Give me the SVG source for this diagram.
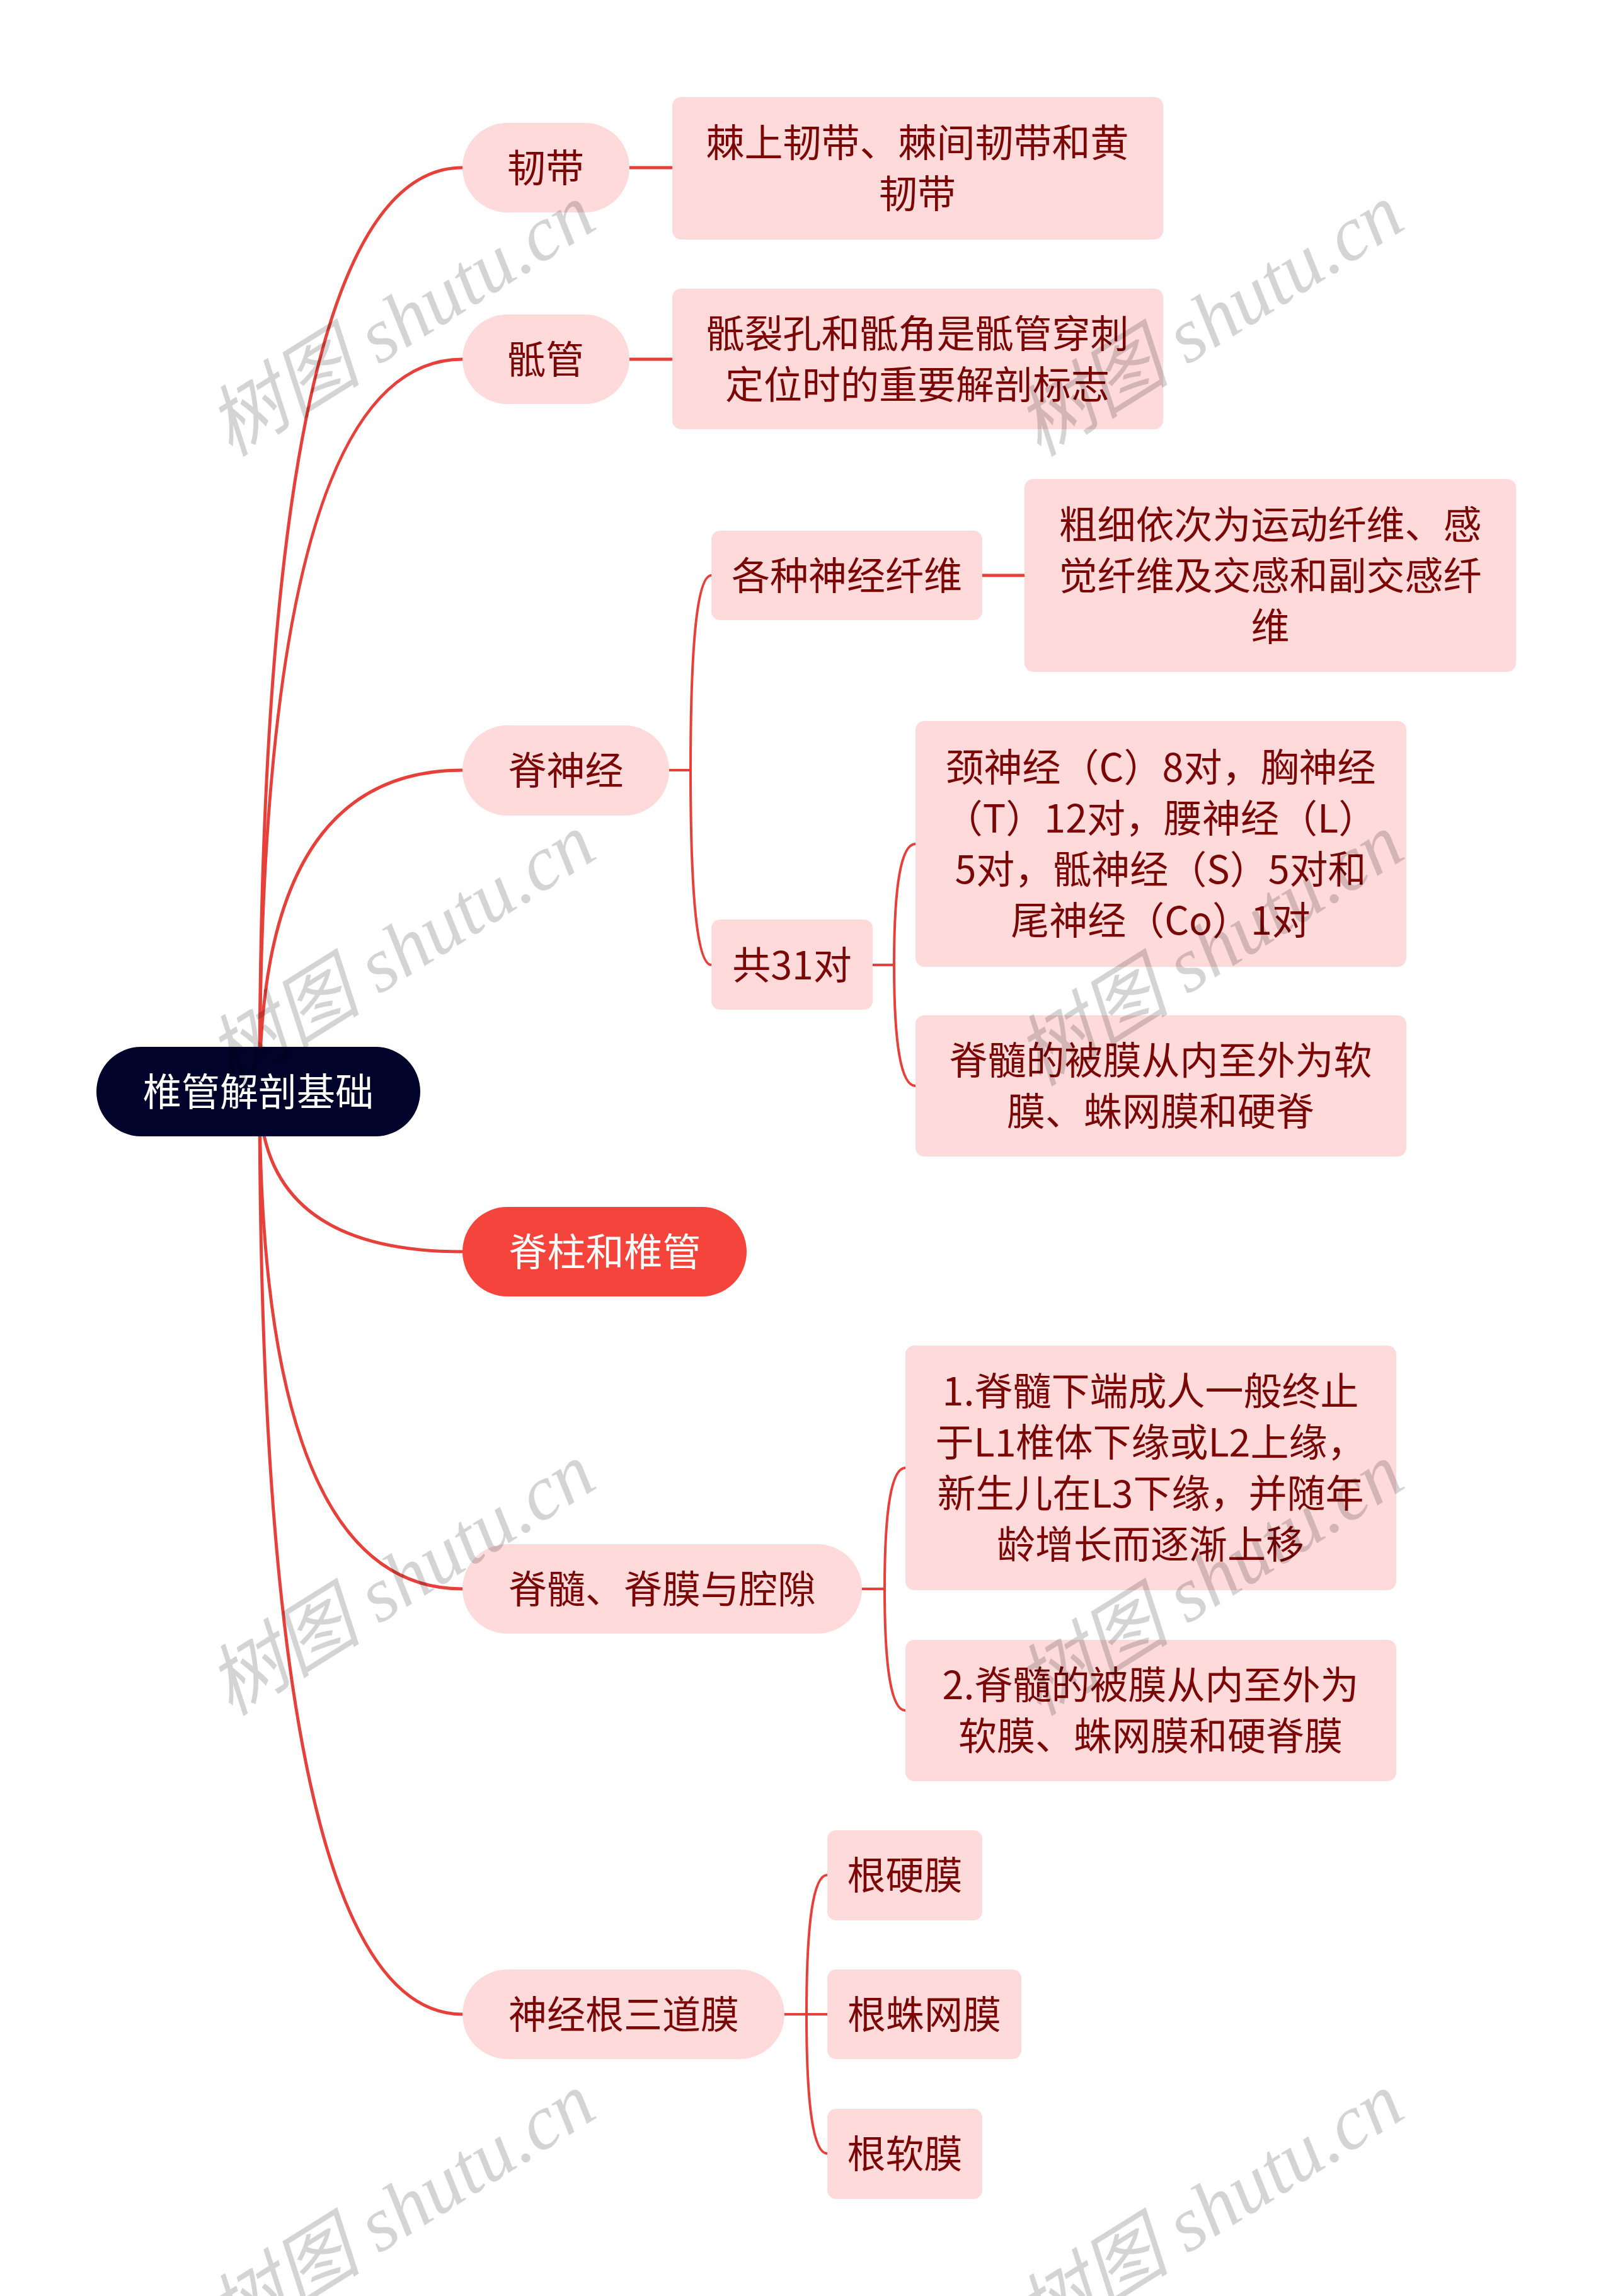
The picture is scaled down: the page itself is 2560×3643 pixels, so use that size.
<svg xmlns="http://www.w3.org/2000/svg" width="2560" height="3643" viewBox="0 0 2560 3643">
<style>
.pill{fill:#fedada}
.box{fill:#fedada}
.t{font-family:"Noto Sans CJK SC","Noto Sans",sans-serif;font-size:61px;fill:#7a0606;text-anchor:middle;dominant-baseline:central;transform:translate(0px,-4px)}
.w{fill:#ffffff}
.c1{fill:none;stroke:#e6403a;stroke-width:5;stroke-linecap:round}
.c2{fill:none;stroke:#e6403a;stroke-width:4;stroke-linecap:round}
.wm{font-family:"Liberation Serif","Noto Sans CJK SC",serif;font-style:italic;font-size:123px;fill:#000;fill-opacity:0.17;text-anchor:middle;dominant-baseline:central}
</style>
<rect width="2560" height="3643" fill="#ffffff"/>
<g id="connectors">
<path class="c1" d="M412 1732 Q412 266 734 266"/>
<path class="c1" d="M412 1732 Q412 570 734 570"/>
<path class="c1" d="M412 1732 Q412 1222 734 1222"/>
<path class="c1" d="M412 1732 Q412 1986 734 1986"/>
<path class="c1" d="M412 1732 Q412 2521 734 2521"/>
<path class="c1" d="M412 1732 Q412 3196 734 3196"/>
<path class="c1" d="M999 266 H1067"/>
<path class="c1" d="M999 570 H1067"/>
<path class="c2" d="M1062 1222 H1096"/>
<path class="c2" d="M1096 1222 Q1096 913 1129 913"/>
<path class="c2" d="M1096 1222 Q1096 1531 1129 1531"/>
<path class="c1" d="M1559 913 H1626"/>
<path class="c2" d="M1385 1531 H1419"/>
<path class="c2" d="M1419 1531 Q1419 1339 1453 1339"/>
<path class="c2" d="M1419 1531 Q1419 1723 1453 1723"/>
<path class="c2" d="M1368 2521 H1404"/>
<path class="c2" d="M1404 2521 Q1404 2329 1437 2329"/>
<path class="c2" d="M1404 2521 Q1404 2714 1437 2714"/>
<path class="c2" d="M1245 3196 H1313"/>
<path class="c2" d="M1280 3196 Q1280 2975 1313 2975"/>
<path class="c2" d="M1280 3196 Q1280 3417 1313 3417"/>
</g>
<g id="root">
<rect x="153" y="1661" width="514" height="142" rx="71" fill="#01032a"/>
<text class="t w" x="410" y="1732">椎管解剖基础</text>
</g>
<g id="n-rendai">
<rect class="pill" x="734" y="195" width="265" height="142" rx="71"/>
<text class="t" x="866" y="266">韧带</text>
</g>
<g id="n-rendai-c">
<rect class="box" x="1067" y="154" width="779" height="226" rx="14"/>
<text class="t" x="1456" y="226.5">棘上韧带、棘间韧带和黄</text>
<text class="t" x="1456" y="307.5">韧带</text>
</g>
<g id="n-diguan">
<rect class="pill" x="734" y="499" width="265" height="142" rx="71"/>
<text class="t" x="866" y="570">骶管</text>
</g>
<g id="n-diguan-c">
<rect class="box" x="1067" y="458" width="779" height="223" rx="14"/>
<text class="t" x="1456" y="529">骶裂孔和骶角是骶管穿刺</text>
<text class="t" x="1456" y="610">定位时的重要解剖标志</text>
</g>
<g id="n-jishenjing">
<rect class="pill" x="734" y="1151" width="328" height="143" rx="71"/>
<text class="t" x="898" y="1222">脊神经</text>
</g>
<g id="n-gezhong">
<rect class="box" x="1129" y="842" width="430" height="142" rx="14"/>
<text class="t" x="1344" y="913">各种神经纤维</text>
</g>
<g id="n-gezhong-c">
<rect class="box" x="1626" y="760" width="780" height="306" rx="14"/>
<text class="t" x="2016" y="832">粗细依次为运动纤维、感</text>
<text class="t" x="2016" y="913">觉纤维及交感和副交感纤</text>
<text class="t" x="2016" y="994">维</text>
</g>
<g id="n-gong31">
<rect class="box" x="1129" y="1459" width="256" height="143" rx="14"/>
<text class="t" x="1257" y="1531">共31对</text>
</g>
<g id="n-jingshenjing">
<rect class="box" x="1453" y="1144" width="779" height="390" rx="14"/>
<text class="t" x="1842" y="1217.5">颈神经（C）8对，胸神经</text>
<text class="t" x="1842" y="1298.5">（T）12对，腰神经（L）</text>
<text class="t" x="1842" y="1379.5">5对，骶神经（S）5对和</text>
<text class="t" x="1842" y="1460.5">尾神经（Co）1对</text>
</g>
<g id="n-beimo1">
<rect class="box" x="1453" y="1611" width="779" height="224" rx="14"/>
<text class="t" x="1842" y="1682.5">脊髓的被膜从内至外为软</text>
<text class="t" x="1842" y="1763.5">膜、蛛网膜和硬脊</text>
</g>
<g id="n-jizhu">
<rect x="734" y="1915" width="451" height="142" rx="71" fill="#f5443b"/>
<text class="t w" x="960" y="1986">脊柱和椎管</text>
</g>
<g id="n-jisui">
<rect class="pill" x="734" y="2450" width="634" height="142" rx="71"/>
<text class="t" x="1051" y="2521">脊髓、脊膜与腔隙</text>
</g>
<g id="n-jisui-1">
<rect class="box" x="1437" y="2135" width="779" height="388" rx="14"/>
<text class="t" x="1826" y="2207.5">1.脊髓下端成人一般终止</text>
<text class="t" x="1826" y="2288.5">于L1椎体下缘或L2上缘，</text>
<text class="t" x="1826" y="2369.5">新生儿在L3下缘，并随年</text>
<text class="t" x="1826" y="2450.5">龄增长而逐渐上移</text>
</g>
<g id="n-jisui-2">
<rect class="box" x="1437" y="2602" width="779" height="224" rx="14"/>
<text class="t" x="1826" y="2673.5">2.脊髓的被膜从内至外为</text>
<text class="t" x="1826" y="2754.5">软膜、蛛网膜和硬脊膜</text>
</g>
<g id="n-sandao">
<rect class="pill" x="734" y="3125" width="511" height="142" rx="71"/>
<text class="t" x="990" y="3196">神经根三道膜</text>
</g>
<g id="n-genying">
<rect class="box" x="1313" y="2904" width="246" height="143" rx="14"/>
<text class="t" x="1436" y="2975.5">根硬膜</text>
</g>
<g id="n-genzhu">
<rect class="box" x="1313" y="3125" width="308" height="142" rx="14"/>
<text class="t" x="1467" y="3196">根蛛网膜</text>
</g>
<g id="n-genruan">
<rect class="box" x="1313" y="3346" width="246" height="143" rx="14"/>
<text class="t" x="1436" y="3417.5">根软膜</text>
</g>
<g id="watermark">
<text class="wm" transform="translate(637 508) rotate(-32)">树图 shutu.cn</text>
<text class="wm" transform="translate(1920 508) rotate(-32)">树图 shutu.cn</text>
<text class="wm" transform="translate(637 1507) rotate(-32)">树图 shutu.cn</text>
<text class="wm" transform="translate(1920 1507) rotate(-32)">树图 shutu.cn</text>
<text class="wm" transform="translate(637 2506) rotate(-32)">树图 shutu.cn</text>
<text class="wm" transform="translate(1920 2506) rotate(-32)">树图 shutu.cn</text>
<text class="wm" transform="translate(637 3505) rotate(-32)">树图 shutu.cn</text>
<text class="wm" transform="translate(1920 3505) rotate(-32)">树图 shutu.cn</text>
</g>
</svg>
